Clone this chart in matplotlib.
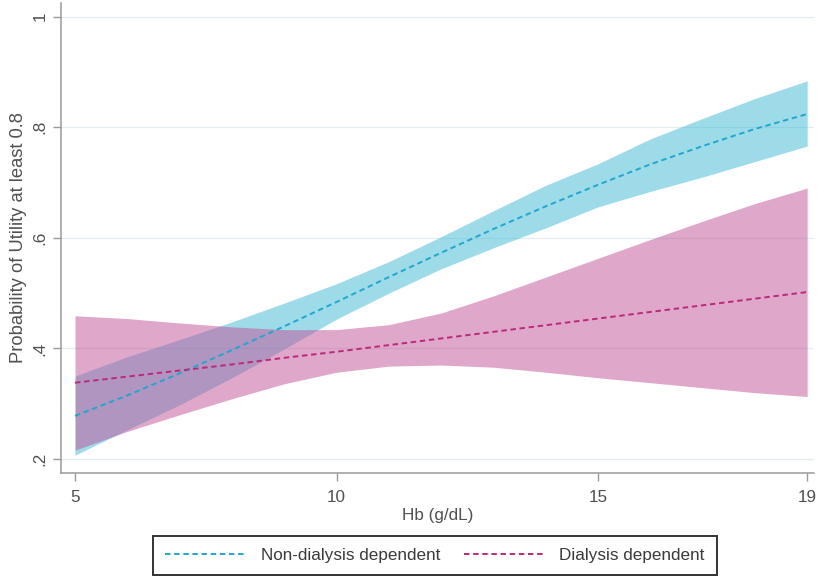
import matplotlib
matplotlib.use("Agg")
import matplotlib.pyplot as plt
from matplotlib.lines import Line2D

# Hemoglobin grid (g/dL)
hb = [5, 6, 7, 8, 9, 10, 11, 12, 13, 14, 15, 16, 17, 18, 19]

# Non-dialysis dependent: predicted probability and 95% CI
nd_mean = [0.278, 0.315, 0.355, 0.397, 0.440, 0.484, 0.529, 0.573, 0.616, 0.657, 0.696, 0.733, 0.766, 0.797, 0.824]
nd_lo   = [0.207, 0.253, 0.298, 0.347, 0.399, 0.453, 0.500, 0.544, 0.582, 0.618, 0.656, 0.684, 0.710, 0.738, 0.766]
nd_hi   = [0.350, 0.385, 0.416, 0.448, 0.482, 0.517, 0.557, 0.602, 0.649, 0.695, 0.734, 0.779, 0.816, 0.852, 0.884]

# Dialysis dependent: predicted probability and 95% CI
dd_mean = [0.338, 0.349, 0.360, 0.371, 0.383, 0.394, 0.406, 0.418, 0.430, 0.442, 0.454, 0.466, 0.478, 0.490, 0.502]
dd_lo   = [0.216, 0.250, 0.280, 0.309, 0.336, 0.357, 0.368, 0.370, 0.366, 0.357, 0.347, 0.338, 0.329, 0.320, 0.313]
dd_hi   = [0.459, 0.454, 0.446, 0.439, 0.434, 0.434, 0.443, 0.464, 0.495, 0.529, 0.563, 0.597, 0.630, 0.662, 0.690]

x_ticks = [5, 10, 15, 19]
y_ticks = [0.2, 0.4, 0.6, 0.8, 1.0]
y_tick_labels = [".2", ".4", ".6", ".8", "1"]

series_labels = ["Non-dialysis dependent", "Dialysis dependent"]

plt.rcParams["font.family"] = ["Liberation Sans", "DejaVu Sans"]

FS = 12.3
TEXT = "#505050"

fig = plt.figure(figsize=(8.17, 5.79), dpi=100)
ax = fig.add_axes([0.0747, 0.1831, 0.9963 - 0.0747, 0.9950 - 0.1831])

cyan_fill = (61 / 255, 185 / 255, 213 / 255)
pink_fill = (193 / 255, 81 / 255, 151 / 255)
cyan_line = "#1fa7cf"
pink_line = "#bb2a78"

ax.fill_between(hb, nd_lo, nd_hi, color=cyan_fill, alpha=0.5, lw=0, zorder=2)
ax.fill_between(hb, dd_lo, dd_hi, color=pink_fill, alpha=0.5, lw=0, zorder=3)

dash = (0, (2.8, 1.9))
ax.plot(hb, nd_mean, color=cyan_line, lw=1.4, linestyle=dash, zorder=4)
ax.plot(hb, dd_mean, color=pink_line, lw=1.4, linestyle=dash, zorder=4)

ax.set_xlim(4.732, 19.13)
ax.set_ylim(0.1747, 1.025)

ax.set_xticks(x_ticks)
ax.set_yticks(y_ticks)
ax.set_yticklabels(y_tick_labels, rotation=90, va="center")

ax.grid(axis="y", color="#e2edf0", lw=0.9, zorder=0)
ax.set_axisbelow(True)

for side in ("top", "right"):
    ax.spines[side].set_visible(False)
for side in ("left", "bottom"):
    ax.spines[side].set_color("#9a9a9a")
    ax.spines[side].set_linewidth(1.1)

ax.tick_params(axis="both", direction="out", length=5.5, width=1.0, color="#9a9a9a",
               labelcolor=TEXT, labelsize=FS)
ax.tick_params(axis="x", pad=7)
ax.tick_params(axis="y", pad=4)

ax.set_xlabel("Hb (g/dL)", fontsize=FS, color=TEXT, labelpad=2)
ax.set_ylabel("Probability of Utility at least 0.8", fontsize=13.2, color=TEXT, labelpad=4)

handles = [
    Line2D([], [], color=cyan_line, lw=1.4, linestyle=dash),
    Line2D([], [], color=pink_line, lw=1.4, linestyle=dash),
]
leg = fig.legend(handles, series_labels, loc="center", bbox_to_anchor=(0.5324, 0.0406),
                 ncol=2, frameon=True, fancybox=False, fontsize=FS,
                 handlelength=4.7, handletextpad=0.88, columnspacing=1.4,
                 borderpad=0.7, labelcolor="#3a3a3a")
leg.get_frame().set_edgecolor("black")
leg.get_frame().set_linewidth(1.4)

fig.savefig("out.png", dpi=100)
